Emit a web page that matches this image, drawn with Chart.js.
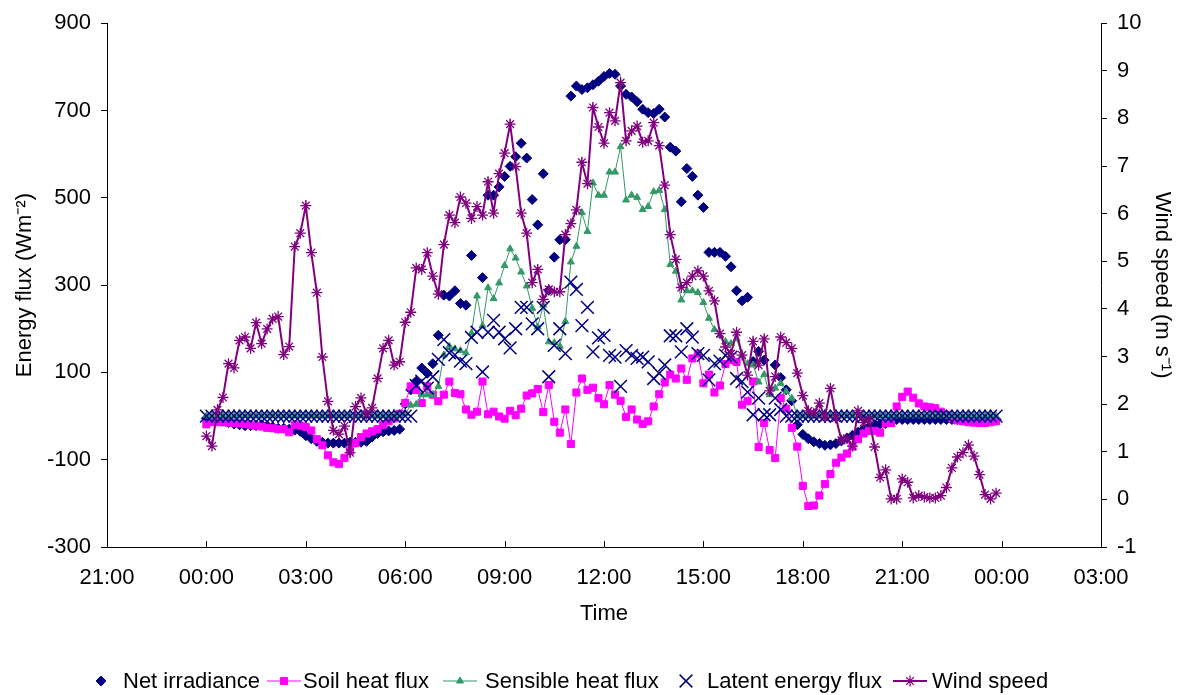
<!DOCTYPE html>
<html>
<head>
<meta charset="utf-8">
<title>Energy flux and wind speed</title>
<script src="https://cdn.jsdelivr.net/npm/chart.js@4.4.1/dist/chart.umd.min.js"></script>
<style>
  html, body { margin: 0; padding: 0; background: #fff; }
  #wrap { width: 1185px; height: 695px; }
</style>
</head>
<body>
<div id="wrap"><canvas id="fluxChart" width="1185" height="695"></canvas></div>
<script>
// 10-minute records from 00:00 to 23:50, one row = 2 hours
const netIrradiance = [
  -5, -8, -10, -12, -15, -18, -20, -22, -22, -22, -20, -22,
  -25, -28, -28, -30, -32, -35, -45, -52, -58, -60, -62, -62,
  -62, -62, -60, -60, -60, -58, -48, -40, -36, -34, -33, -30,
  28, 60, 80, 110, 98, 120, 185, 277, 275, 287, 258, 254,
  368, null, 317, 506, 506, 525, 549, 572, 594, 625, 591, 496,
  438, 555, 288, 364, 404, 404, 733, 756, 748, 752, 759, 767,
  778, 785, 783, 756, 737, 731, 720, 703, 695, 693, 703, 685,
  616, 607, 491, 567, 549, 506, 478, 375, 375, 375, 366, 342,
  287, 264, 272, 125, 148, 128, null, 117, 88, 60, 35, -20,
  -42, -52, -59, -63, -67, -66, -63, -57, -50, -44, -37, -30,
  -25, -20, -18, -17, -12, -8, -8, -8, -8, -8, -8, -8,
  -8, -8, -8, -8, -8, -8, -8, -8, -8, -8, -8, -8
];
const soilHeatFlux = [
  -19, -14, -14, -14, -15, -16, -17, -18, -20, -22, -24, -27,
  -28, -30, -30, -37, -20, -22, -25, -33, -53, -67, -90, -106,
  -110, -96, -80, -62, -48, -40, -35, -30, -20, -12, -5, 5,
  30, 68, 60, 30, 68, 49, 34, 49, 79, 53, 50, 15,
  3, 10, 79, 4, 10, -1, -6, 12, 2, 17, 47, 52,
  62, 9, 71, -13, -38, 15, -64, 54, 86, 60, 65, 41,
  27, 71, 49, 35, -2, 15, -8, -18, -12, 22, 50, 77,
  95, 86, 109, 83, 132, 143, 75, 95, 54, 70, 119, 128,
  124, 26, 34, 79, -71, -16, -78, -96, 41, 17, -27, -70,
  -160, -206, -205, -182, -156, -133, -107, -95, -86, -70, -53, -40,
  -34, -34, -38, -16, -16, 22, 44, 56, 42, 29, 22, 20,
  18, 10, 3, -5, -10, -12, -14, -15, -16, -16, -14, -12
];
const sensibleHeatFlux = [
  0, 0, 0, 0, 0, 0, 0, 0, 0, 0, 0, 0,
  0, 0, 0, 0, 0, 0, 0, 0, 0, 0, 0, 0,
  0, 0, 0, 0, 0, 0, 0, 0, 0, 0, 0, 0,
  5, 25, 27, 49, 49, 49, 68, 140, 160, 154, 150, 145,
  190, 275, 207, 294, 269, 305, 345, 383, 362, 330, 298, 247,
  204, 254, 170, 168, 160, 217, 353, 389, 466, 423, 534, 506,
  506, 559, 559, 617, 495, 506, 501, 473, 480, 514, 517, 473,
  347, 332, 266, 287, 287, 283, 260, 224, 198, 185, 171, 166,
  177, 139, 120, 117, 78, 95, 49, 64, 75, 56, 41, 0,
  0, 0, 0, 0, 0, 0, 0, 0, 0, 0, 0, 0,
  0, 0, 0, 0, 0, 0, 0, 0, 0, 0, 0, 0,
  0, 0, 0, 0, 0, 0, 0, 0, 0, 0, 0, 0
];
const latentEnergyFlux = [
  0, 0, 0, 0, 0, 0, 0, 0, 0, 0, 0, 0,
  0, 0, 0, 0, 0, 0, 0, 0, 0, 0, 0, 0,
  0, 0, 0, 0, 0, 0, 0, 0, 0, 0, 0, 0,
  0, 0, 70, 80, 64, 90, 130, 175, 145, 140, 126, 120,
  180, 192, 101, 192, 219, 192, 177, 156, 200, 249, 249, 211,
  200, 249, 90, 162, 200, 143, 307, 290, 207, 249, 147, 179,
  185, 139, 135, 68, 150, 139, 132, 135, 124, 86, 98, 117,
  184, 184, 147, 200, 181, 143, 139, 83, 120, 126, 139, 135,
  86, 79, 55, 3, 41, 3, 3, 41, 15, 0, 0, 0,
  0, 0, 0, 0, 0, 0, 0, 0, 0, 0, 0, 0,
  0, 0, 0, 0, 0, 0, 0, 0, 0, 0, 0, 0,
  0, 0, 0, 0, 0, 0, 0, 0, 0, 0, 0, 0
];
const windSpeed = [
  1.33, 1.12, 1.88, 2.14, 2.85, 2.76, 3.34, 3.41, 3.17, 3.71, 3.27, 3.58,
  3.79, 3.84, 3.04, 3.21, 5.31, 5.59, 6.17, 5.18, 4.34, 2.99, 2.06, 1.45,
  1.37, 1.54, 0.98, 1.95, 2.13, 1.79, 1.92, 2.54, 3.17, 3.34, 2.82, 2.89,
  3.72, 3.93, 4.86, 4.83, 5.18, 4.69, 4.31, 5.35, 5.97, 5.81, 6.35, 6.22,
  5.90, 6.15, 5.97, 6.67, 6.01, 6.84, 7.27, 7.88, 6.99, 6.01, 5.59, 4.55,
  4.83, 4.20, 4.41, 4.36, 4.36, 5.56, 5.79, 6.08, 7.08, 6.63, 8.23, 7.82,
  7.48, 8.12, 7.95, 8.75, 7.53, 7.74, 7.84, 7.50, 7.53, 7.91, 7.43, 6.60,
  5.56, 5.04, 4.45, 4.55, 4.69, 4.80, 4.69, 4.38, 4.17, 3.48, 3.20, 3.06,
  3.51, 3.03, 2.61, 3.32, 2.82, 3.37, 2.28, 2.58, 3.41, 3.29, 3.17, 2.65,
  2.18, 1.86, 1.81, 2.02, 1.72, 2.33, 1.71, 1.24, 1.28, 1.12, 1.86, 1.61,
  1.68, 1.10, 0.46, 0.62, 0.01, 0.01, 0.43, 0.36, 0.03, 0.08, 0.05, 0.03,
  0.03, 0.08, 0.25, 0.66, 0.89, 0.98, 1.14, 0.91, 0.52, 0.10, 0.01, 0.13
];

// time of each record in hours after midnight
const hours = windSpeed.map((v, i) => i / 6);
const xTickHours = [-3, 0, 3, 6, 9, 12, 15, 18, 21, 24, 27];

const NAVY = '#000080';
const PINK = '#ff00ff';
const GREEN = '#339966';
const PURPLE = '#800080';
const FONT = { family: "'Liberation Sans', Arial, sans-serif", size: 22 };

Chart.defaults.color = '#000';
Chart.defaults.font.family = FONT.family;
Chart.defaults.font.size = FONT.size;

function toPoints(values) {
    return values.map((v, i) => ({ x: hours[i], y: v }));
}

function clockLabel(h) {
    const hh = ((h % 24) + 24) % 24;
    return String(hh).padStart(2, '0') + ':00';
}

// legend slot positions along the bottom row
const legendSlots = [
    { mark: 101, text: 123 },
    { mark: 284, text: 303 },
    { mark: 460, text: 485 },
    { mark: 686, text: 707 },
    { mark: 910, text: 932 }
];

function drawMarker(ctx, ds, x, y) {
    ctx.fillStyle = ds.backgroundColor;
    ctx.strokeStyle = ds.borderColor;
    ctx.lineWidth = ds.pointBorderWidth || 1;
    if (Chart.helpers && Chart.helpers.drawPoint) {
        Chart.helpers.drawPoint(ctx, {
            pointStyle: ds.pointStyle,
            radius: ds.pointRadius,
            rotation: 0,
            borderWidth: ds.pointBorderWidth || 1
        }, x, y);
    } else {
        ctx.beginPath();
        ctx.arc(x, y, ds.pointRadius, 0, Math.PI * 2);
        ctx.fill();
    }
}

const axisExtras = {
    id: 'axisExtras',
    afterDraw(chart) {
        const ctx = chart.ctx;
        const xs = chart.scales.x;
        const bottom = chart.chartArea.bottom;

        // inward tick marks on the time axis
        ctx.save();
        ctx.strokeStyle = '#000';
        ctx.lineWidth = 1;
        xTickHours.forEach(h => {
            const px = Math.round(xs.getPixelForValue(h)) + 0.5;
            ctx.beginPath();
            ctx.moveTo(px, bottom);
            ctx.lineTo(px, bottom - 6);
            ctx.stroke();
        });

        // legend row
        const y = 681;
        ctx.font = FONT.size + 'px ' + FONT.family;
        ctx.textBaseline = 'middle';
        ctx.textAlign = 'left';
        chart.data.datasets.forEach((ds, i) => {
            const slot = legendSlots[i];
            if (ds.showLine !== false) {
                ctx.strokeStyle = ds.borderColor;
                ctx.lineWidth = ds.borderWidth;
                ctx.beginPath();
                ctx.moveTo(slot.mark - 17, y);
                ctx.lineTo(slot.mark + 17, y);
                ctx.stroke();
            }
            drawMarker(ctx, ds, slot.mark, y);
            ctx.fillStyle = '#000';
            ctx.fillText(ds.label, slot.text, y + 1);
        });
        ctx.restore();
    }
};

const ctx = document.getElementById('fluxChart').getContext('2d');
const fluxChart = new Chart(ctx, {
    type: 'line',
    data: {
        datasets: [
            {
                label: 'Net irradiance',
                data: toPoints(netIrradiance),
                yAxisID: 'y',
                showLine: false,
                pointStyle: 'rectRot',
                pointRadius: 5,
                pointBorderWidth: 1,
                backgroundColor: NAVY,
                borderColor: NAVY,
                order: 5
            },
            {
                label: 'Soil heat flux',
                data: toPoints(soilHeatFlux),
                yAxisID: 'y',
                pointStyle: 'rect',
                pointRadius: 5,
                pointBorderWidth: 1,
                borderWidth: 1,
                backgroundColor: PINK,
                borderColor: PINK,
                order: 4
            },
            {
                label: 'Sensible heat flux',
                data: toPoints(sensibleHeatFlux),
                yAxisID: 'y',
                pointStyle: 'triangle',
                pointRadius: 4,
                pointBorderWidth: 1,
                borderWidth: 1,
                backgroundColor: GREEN,
                borderColor: GREEN,
                order: 3
            },
            {
                label: 'Latent energy flux',
                data: toPoints(latentEnergyFlux),
                yAxisID: 'y',
                showLine: false,
                pointStyle: 'crossRot',
                pointRadius: 9,
                pointBorderWidth: 1.5,
                backgroundColor: NAVY,
                borderColor: NAVY,
                order: 2
            },
            {
                label: 'Wind speed',
                data: toPoints(windSpeed),
                yAxisID: 'y1',
                pointStyle: 'star',
                pointRadius: 5.5,
                pointBorderWidth: 1.3,
                borderWidth: 2,
                backgroundColor: PURPLE,
                borderColor: PURPLE,
                order: 1
            }
        ]
    },
    options: {
        responsive: false,
        animation: false,
        layout: {
            padding: { top: 18, left: 0, right: 0, bottom: 0 }
        },
        plugins: {
            legend: { display: false },
            tooltip: { enabled: false }
        },
        scales: {
            x: {
                type: 'linear',
                min: -3,
                max: 27,
                afterBuildTicks: axis => {
                    axis.ticks = xTickHours.map(v => ({ value: v }));
                },
                ticks: {
                    callback: v => clockLabel(v),
                    maxRotation: 0,
                    padding: 18,
                    color: '#000'
                },
                grid: { display: true, drawOnChartArea: false, drawTicks: false },
                border: { display: true, color: '#000', width: 1 },
                title: {
                    display: true,
                    text: 'Time',
                    color: '#000',
                    padding: { top: 0, bottom: 68 }
                },
                afterFit: axis => { axis.height = 148; }
            },
            y: {
                position: 'left',
                min: -300,
                max: 900,
                ticks: { stepSize: 200, padding: 10, color: '#000' },
                grid: { drawOnChartArea: false, tickLength: 6, color: '#000' },
                border: { display: true, color: '#000', width: 1 },
                title: {
                    display: true,
                    text: 'Energy flux (Wm\u207B\u00B2)',
                    color: '#000',
                    padding: { top: 12, bottom: 0 }
                },
                afterFit: axis => { axis.width = 107; }
            },
            y1: {
                position: 'right',
                min: -1,
                max: 10,
                ticks: { stepSize: 1, padding: 10, color: '#000' },
                grid: { drawOnChartArea: false, tickLength: 6, color: '#000' },
                border: { display: true, color: '#000', width: 1 },
                title: {
                    display: true,
                    text: 'Wind speed (m s\u207B\u00B9)',
                    color: '#000',
                    padding: { top: 10, bottom: 0 }
                },
                afterFit: axis => { axis.width = 84; }
            }
        }
    },
    plugins: [axisExtras]
});
</script>
</body>
</html>
